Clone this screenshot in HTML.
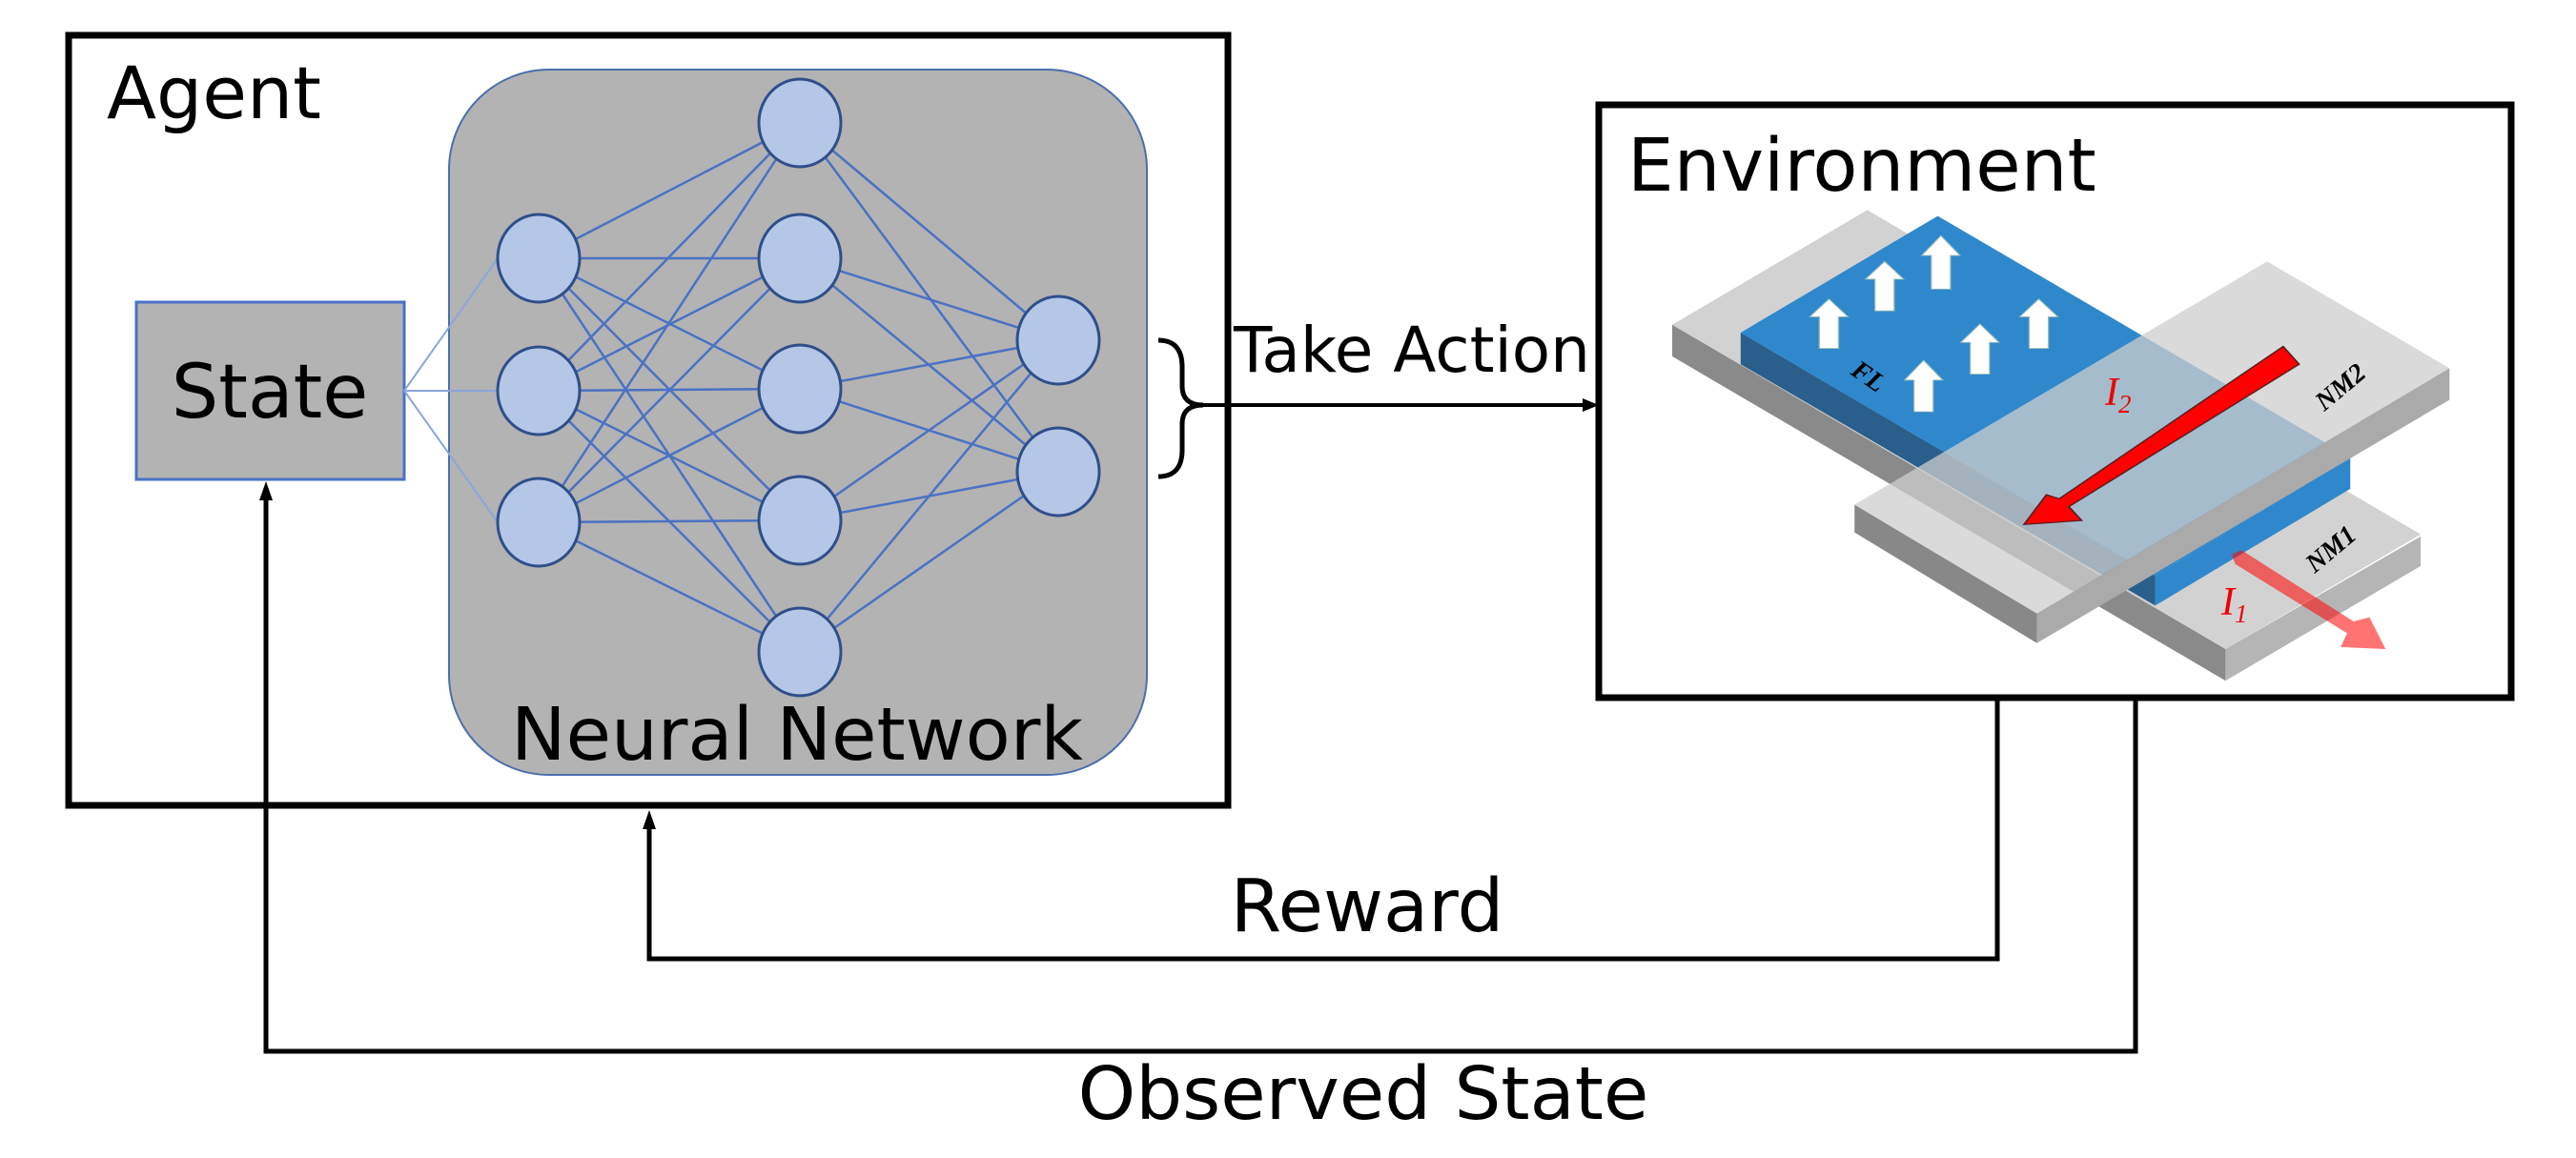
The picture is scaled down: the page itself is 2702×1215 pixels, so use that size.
<!DOCTYPE html>
<html><head><meta charset="utf-8"><style>
html,body{margin:0;padding:0;background:#fff;}
svg{display:block}
text{font-family:"DejaVu Sans","Liberation Sans",sans-serif;}
</style></head><body>
<svg width="2702" height="1215" viewBox="0 0 2702 1215" xmlns="http://www.w3.org/2000/svg">
<!-- Agent box -->
<rect x="72" y="37" width="1216" height="808" fill="#fff" stroke="#000" stroke-width="7"/>
<text x="112" y="124" font-size="76">Agent</text>
<!-- NN -->
<rect x="471" y="73" width="732" height="740" rx="105" fill="#b3b3b3" stroke="#4a6fb0" stroke-width="2"/>
<!-- State -->
<rect x="143" y="317" width="281" height="186" fill="#b3b3b3" stroke="#4a72c4" stroke-width="3"/>
<text x="283" y="438" font-size="78" text-anchor="middle">State</text>
<g stroke="#8aa6dc" stroke-width="2">
<line x1="424" y1="410" x2="522" y2="271"/><line x1="424" y1="410" x2="522" y2="410"/><line x1="424" y1="410" x2="522" y2="548"/>
</g>
<g stroke="#4a72c4" stroke-width="2.5">
<line x1="565" y1="271" x2="839" y2="129"/><line x1="565" y1="271" x2="839" y2="271"/><line x1="565" y1="271" x2="839" y2="408"/><line x1="565" y1="271" x2="839" y2="546"/><line x1="565" y1="271" x2="839" y2="684"/>
<line x1="565" y1="410" x2="839" y2="129"/><line x1="565" y1="410" x2="839" y2="271"/><line x1="565" y1="410" x2="839" y2="408"/><line x1="565" y1="410" x2="839" y2="546"/><line x1="565" y1="410" x2="839" y2="684"/>
<line x1="565" y1="548" x2="839" y2="129"/><line x1="565" y1="548" x2="839" y2="271"/><line x1="565" y1="548" x2="839" y2="408"/><line x1="565" y1="548" x2="839" y2="546"/><line x1="565" y1="548" x2="839" y2="684"/>
<line x1="839" y1="129" x2="1110" y2="357"/><line x1="839" y1="271" x2="1110" y2="357"/><line x1="839" y1="408" x2="1110" y2="357"/><line x1="839" y1="546" x2="1110" y2="357"/><line x1="839" y1="684" x2="1110" y2="357"/>
<line x1="839" y1="129" x2="1110" y2="495"/><line x1="839" y1="271" x2="1110" y2="495"/><line x1="839" y1="408" x2="1110" y2="495"/><line x1="839" y1="546" x2="1110" y2="495"/><line x1="839" y1="684" x2="1110" y2="495"/>
</g>
<g fill="#b4c7e7" stroke="#2f4f8a" stroke-width="3">
<ellipse cx="565" cy="271" rx="43" ry="46"/><ellipse cx="565" cy="410" rx="43" ry="46"/><ellipse cx="565" cy="548" rx="43" ry="46"/>
<ellipse cx="839" cy="129" rx="43" ry="46"/><ellipse cx="839" cy="271" rx="43" ry="46"/><ellipse cx="839" cy="408" rx="43" ry="46"/><ellipse cx="839" cy="546" rx="43" ry="46"/><ellipse cx="839" cy="684" rx="43" ry="46"/>
<ellipse cx="1110" cy="357" rx="43" ry="46"/><ellipse cx="1110" cy="495" rx="43" ry="46"/>
</g>
<text x="836" y="797" font-size="77" text-anchor="middle">Neural Network</text>
<!-- Brace and action arrow -->
<path d="M1215 357 Q1240 357 1240 385 L1240 405 Q1240 425 1262 425 Q1240 425 1240 445 L1240 472 Q1240 500 1215 500" fill="none" stroke="#000" stroke-width="5"/>
<line x1="1262" y1="425" x2="1665" y2="425" stroke="#000" stroke-width="4"/>
<polygon points="1677,425 1660,418 1660,432" fill="#000"/>
<text x="1294" y="390" font-size="66">Take Action</text>
<!-- Environment box -->
<rect x="1677" y="110" width="957" height="622" fill="#fff" stroke="#000" stroke-width="7"/>
<text x="1707" y="200" font-size="77">Environment</text>
<!-- device -->
<g transform="translate(1650,100) scale(0.671,0.415)">
<polygon points="155,580 1020,1400 1020,1480 155,660" fill="#8a8a8a"/>
<polygon points="1020,1400 1325,1115 1325,1190 1020,1480" fill="#b5b5b5"/>
<polygon points="155,580 460,290 1325,1110 1020,1400" fill="#d2d2d2"/>
<polygon points="262,600 910,1215 910,1290 262,680" fill="#2a5f8c"/>
<polygon points="262,600 570,305 1215,915 910,1215" fill="#2f88cc"/>
<polygon points="910,1215 1215,915 1215,995 910,1290" fill="#2f88cc"/>
<g fill="#fff" stroke="#9bb" stroke-width="2">
<polygon points="385,640 415,640 415,560 430,560 400,515 370,560 385,560"/>
<polygon points="472,545 502,545 502,465 517,465 487,420 457,465 472,465"/>
<polygon points="560,490 590,490 590,405 605,405 575,355 545,405 560,405"/>
<polygon points="533,800 563,800 563,720 578,720 548,670 518,720 533,720"/>
<polygon points="621,705 651,705 651,625 666,625 636,578 606,625 621,625"/>
<polygon points="713,640 743,640 743,560 758,560 728,515 698,560 713,560"/>
</g>
<polygon points="440,1035 725,1310 725,1385 440,1105" fill="#888"/>
<polygon points="725,1310 1370,690 1370,770 725,1385" fill="#aaa"/>
<polygon points="440,1035 1085,420 1370,690 725,1310" fill="rgba(205,205,205,0.75)"/>
<polygon points="1110,635 1135,680 775,1040 795,1075 705,1085 740,1010 760,1020" fill="#ff0000" stroke="#5a2020" stroke-width="3"/>
<polygon points="1030,1160 1045,1150 1220,1330 1245,1320 1270,1400 1200,1395 1210,1360 1035,1185" fill="rgba(255,0,0,0.55)"/>
</g>
<text x="1940" y="392" style="font-family:'Liberation Serif',serif;font-size:28px;font-weight:bold;font-style:italic" transform="rotate(35 1940 392)">FL</text>
<text x="2208" y="425" style="font-family:'Liberation Serif',serif;font-size:42px;font-style:italic" fill="#e00">I<tspan style="font-size:27px" dy="8">2</tspan></text>
<text x="2438" y="432" style="font-family:'Liberation Serif',serif;font-size:28px;font-weight:bold;font-style:italic" transform="rotate(-40 2438 432)">NM2</text>
<text x="2428" y="602" style="font-family:'Liberation Serif',serif;font-size:28px;font-weight:bold;font-style:italic" transform="rotate(-40 2428 602)">NM1</text>
<text x="2330" y="645" style="font-family:'Liberation Serif',serif;font-size:42px;font-style:italic" fill="#e00">I<tspan style="font-size:27px" dy="8">1</tspan></text>
<!-- feedback lines -->
<polyline points="2095,735 2095,1006 681,1006 681,862" fill="none" stroke="#000" stroke-width="5"/>
<polygon points="681,850 674,870 688,870" fill="#000"/>
<polyline points="2240,735 2240,1103 279,1103 279,517" fill="none" stroke="#000" stroke-width="5"/>
<polygon points="279,505 272,525 286,525" fill="#000"/>
<text x="1434" y="977" font-size="77" text-anchor="middle">Reward</text>
<text x="1430" y="1174" font-size="77" text-anchor="middle">Observed State</text>
</svg>
</body></html>
